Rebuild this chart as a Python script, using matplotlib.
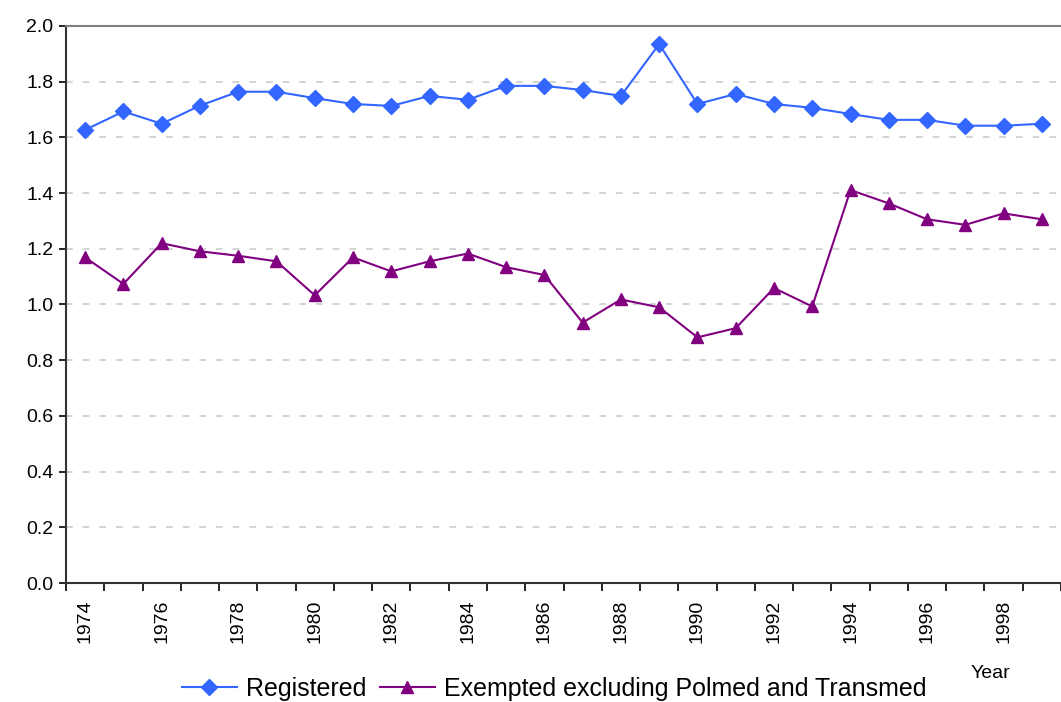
import numpy as np
import matplotlib
matplotlib.use("Agg")
import matplotlib.pyplot as plt
from matplotlib.ticker import FixedLocator, MultipleLocator

plt.rcParams["font.family"] = ["Liberation Sans", "DejaVu Sans"]

years = list(range(1974, 2000))
registered = [1.627, 1.693, 1.649, 1.714, 1.764, 1.764, 1.741, 1.720, 1.713,
              1.749, 1.735, 1.785, 1.785, 1.770, 1.749, 1.935, 1.720, 1.756,
              1.720, 1.706, 1.684, 1.663, 1.663, 1.642, 1.642, 1.649]
exempted = [1.169, 1.074, 1.220, 1.191, 1.175, 1.155, 1.033, 1.169, 1.119,
            1.155, 1.183, 1.134, 1.106, 0.935, 1.018, 0.990, 0.882, 0.915,
            1.059, 0.993, 1.411, 1.363, 1.306, 1.286, 1.327, 1.306]

BLUE = "#3366FF"
PURPLE = "#800080"

fig = plt.figure(figsize=(10.61, 7.02), dpi=100)
ax = fig.add_axes([66 / 1061, 119 / 702, 995 / 1061, 557 / 702])

x = np.arange(len(years))
ax.plot(x, registered, color=BLUE, lw=1.5, marker="D", ms=8,
        label="Registered")
ax.plot(x, exempted, color=PURPLE, lw=1.5, marker="^", ms=9,
        label="Exempted excluding Polmed and Transmed")

ax.set_xlim(-0.5, len(years) - 0.5)
ax.set_ylim(0, 2.0)

# y axis
ax.yaxis.set_major_locator(MultipleLocator(0.2))
ax.yaxis.set_major_formatter(plt.FuncFormatter(lambda v, _: f"{v:.1f}"))
ax.tick_params(axis="y", direction="out", length=5, width=1.2,
               labelsize=14, pad=4)
ax.grid(axis="y", color="#cccccc", ls=(0, (4, 6)), lw=1.2)

# x axis: ticks between categories, labels every other year
ax.xaxis.set_major_locator(FixedLocator(x[::2]))
ax.set_xticklabels([str(y) for y in years[::2]], rotation=90,
                   fontsize=14)
ax.xaxis.set_minor_locator(FixedLocator(np.arange(-0.5, len(years), 1.0)))
ax.tick_params(axis="x", which="major", length=0, pad=12)
ax.tick_params(axis="x", which="minor", direction="out", length=6,
               width=1.2)

for side in ("left", "bottom"):
    ax.spines[side].set_color("#333333")
    ax.spines[side].set_linewidth(1.5)
ax.spines["top"].set_color("#808080")
ax.spines["top"].set_linewidth(1.5)
ax.spines["right"].set_visible(False)

fig.text(990 / 1061, 1 - 673 / 702, "Year", fontsize=14,
         ha="center", va="center")

fig.legend(loc="center", bbox_to_anchor=(554 / 1061, 1 - 689 / 702),
           ncol=2, frameon=False, fontsize=18, handlelength=2.2,
           columnspacing=0.55, handletextpad=0.35)

fig.savefig("out.png", dpi=100)
